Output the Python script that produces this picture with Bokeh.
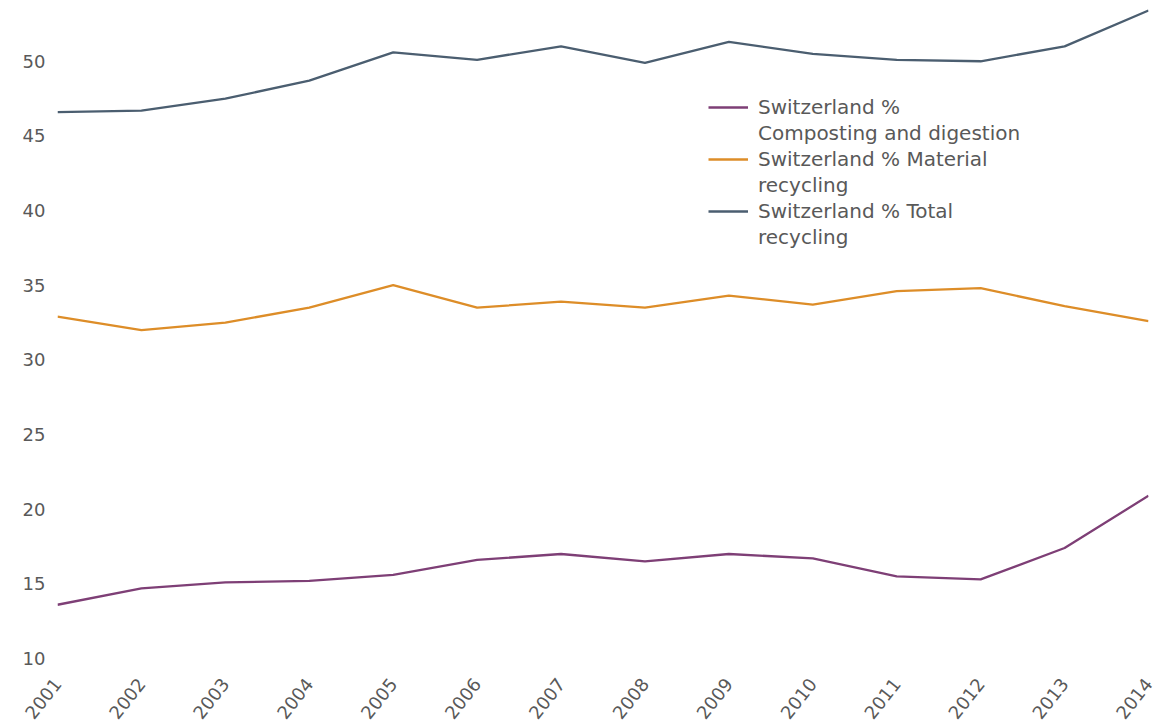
import math
from bokeh.plotting import figure
from bokeh.models import Legend, LegendItem, FixedTicker, Range1d
from bokeh.embed import file_html
from bokeh.resources import INLINE

years = list(range(2001, 2015))
composting = [13.6, 14.7, 15.1, 15.2, 15.6, 16.6, 17.0, 16.5, 17.0, 16.7, 15.5, 15.3, 17.4, 20.9]
material = [32.9, 32.0, 32.5, 33.5, 35.0, 33.5, 33.9, 33.5, 34.3, 33.7, 34.6, 34.8, 33.6, 32.6]
total = [46.6, 46.7, 47.5, 48.7, 50.6, 50.1, 51.0, 49.9, 51.3, 50.5, 50.1, 50.0, 51.0, 53.4]
label_first = ["Switzerland %", "Switzerland % Material", "Switzerland % Total"]
label_second = ["Composting and digestion", "recycling", "recycling"]
colors = ["#7e3f76", "#dd8d28", "#4b5e70"]
y_ticks = [10, 15, 20, 25, 30, 35, 40, 45, 50]

FONT = "DejaVu Sans"
TXT = "#595959"

p = figure(width=1157, height=727, output_backend="svg", toolbar_location=None,
           x_range=Range1d(2001, 2014), y_range=Range1d(10, 54.07),
           min_border_left=57, min_border_right=9, min_border_top=0, min_border_bottom=69)
p.outline_line_color = None
p.grid.grid_line_color = None
p.background_fill_color = "white"

r1 = p.line(years, composting, line_color=colors[0], line_width=2.3)
r2 = p.line(years, material, line_color=colors[1], line_width=2.3)
r3 = p.line(years, total, line_color=colors[2], line_width=2.3)
blank = p.line(x=[], y=[], line_alpha=0)

for ax in (p.xaxis[0], p.yaxis[0]):
    ax.axis_line_color = None
    ax.major_tick_line_color = None
    ax.minor_tick_line_color = None
    ax.major_tick_out = 0
    ax.major_tick_in = 0
    ax.minor_tick_out = 0
    ax.major_label_text_font = FONT
    ax.major_label_text_font_size = "18px"
    ax.major_label_text_color = TXT

p.yaxis[0].ticker = FixedTicker(ticks=y_ticks)
p.yaxis[0].major_label_standoff = 12
p.xaxis[0].ticker = FixedTicker(ticks=years)
p.xaxis[0].major_label_orientation = 0.9
p.xaxis[0].major_label_standoff = 22

items = []
for r, a, b in zip([r1, r2, r3], label_first, label_second):
    items.append(LegendItem(label=a, renderers=[r]))
    items.append(LegendItem(label=b, renderers=[blank]))

legend = Legend(items=items, location=(651, 409))
legend.label_text_font = FONT
legend.label_text_font_size = "20px"
legend.label_text_color = TXT
legend.border_line_color = None
legend.background_fill_alpha = 0
legend.glyph_width = 40
legend.glyph_height = 20
legend.label_height = 24
legend.spacing = 2
legend.padding = 0
legend.margin = 0
legend.label_standoff = 10
p.add_layout(legend, "center")

open("out.html", "w").write(file_html(p, INLINE))
